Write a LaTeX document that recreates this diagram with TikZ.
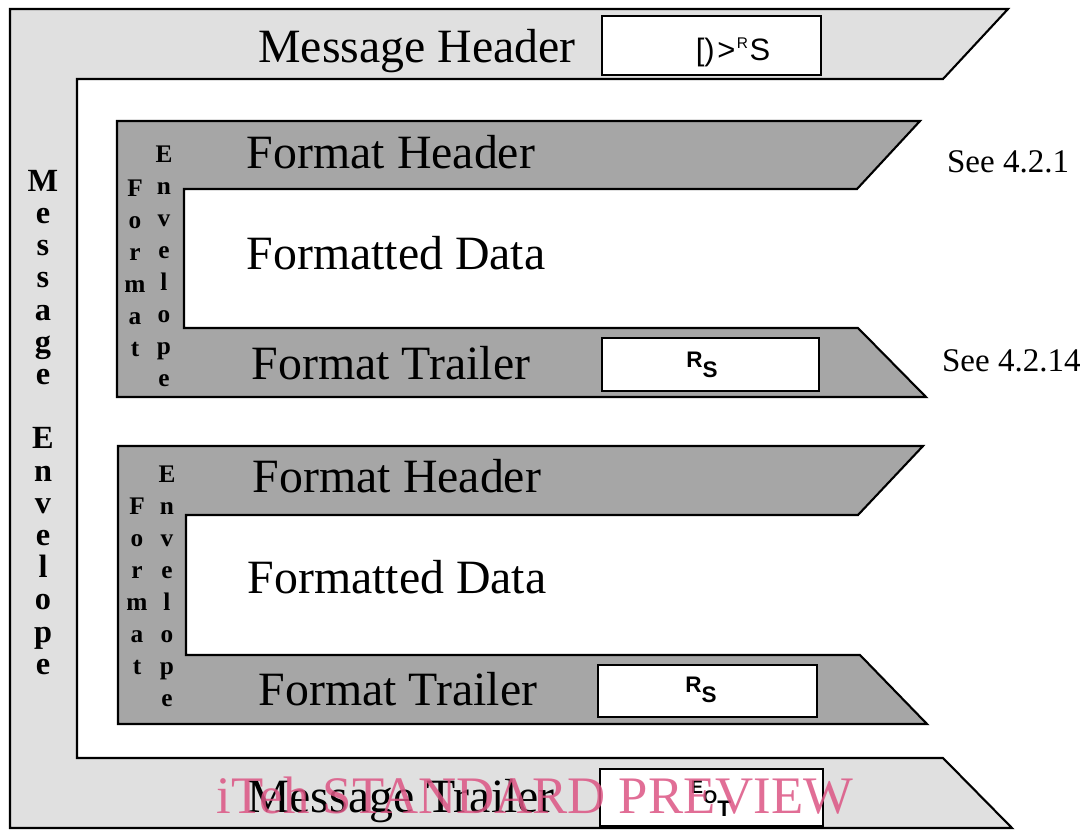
\documentclass[tikz,border=0pt]{standalone}
\usepackage{fontspec}
\setmainfont{Liberation Serif}
\setsansfont{Liberation Sans}
\definecolor{msggray}{gray}{0.88}
\definecolor{fmtgray}{gray}{0.65}
\definecolor{wmpink}{RGB}{220,85,132}

\begin{document}
\begin{tikzpicture}[x=0.025cm, y=-0.025cm, line width=1.5pt,
  bigtext/.style={anchor=base, inner sep=0pt, font=\fontsize{34}{40}\selectfont},
  seetext/.style={anchor=base west, inner sep=0pt, font=\fontsize{23.5}{28}\selectfont},
  msgletters/.style={anchor=north, inner sep=0pt, align=center, font=\bfseries\fontsize{23}{22.9}\selectfont},
  fmtletters/.style={anchor=north, inner sep=0pt, align=center, font=\bfseries\fontsize{18}{22.76}\selectfont},
  codebox/.style={draw, fill=white},
  ctrltext/.style={anchor=base, inner sep=0pt, font=\sffamily\bfseries\fontsize{16}{16}\selectfont}]
\useasboundingbox (0,0) rectangle (1087,830);

% message envelope
\draw[fill=msggray] (10,9) -- (1008,9) -- (943,79) -- (77,79) -- (77,758) -- (943,758) -- (1012,828) -- (10,828) -- cycle;
% format envelopes
\draw[fill=fmtgray] (117,121) -- (920,121) -- (857,189) -- (184,189) -- (184,328) -- (858,328) -- (926,397) -- (117,397) -- cycle;
\draw[fill=fmtgray] (118,446) -- (923,446) -- (858,515) -- (186,515) -- (186,655) -- (860,655) -- (927,724) -- (118,724) -- cycle;

% code boxes
\draw[codebox] (602,16) rectangle (821,75);
\draw[codebox] (602,338) rectangle (819,391);
\draw[codebox] (598,665) rectangle (817,717);
\draw[codebox] (600,769) rectangle (823,826);

\node[bigtext] (msghdr) at (417,62) {Message Header};
\node[bigtext] (fmthdrA) at (391,168) {Format Header};
\node[bigtext] (fmtdataA) at (396,269) {Formatted Data};
\node[bigtext] (fmttrlA) at (391,379) {Format Trailer};
\node[bigtext] (fmthdrB) at (397,492) {Format Header};
\node[bigtext] (fmtdataB) at (397,593) {Formatted Data};
\node[bigtext] (fmttrlB) at (398,705) {Format Trailer};
\node[bigtext] (msgtrl) at (401,812) {Message Trailer};

\node[seetext] (seehdr) at (946,172) {See 4.2.1};
\node[seetext] (seetrl) at (941,371) {See 4.2.14};

% vertical labels
\node[msgletters] (msgenv) at (43,169) {M\\e\\s\\s\\a\\g\\e\\[22.9pt]E\\n\\v\\e\\l\\o\\p\\e};
\node[fmtletters] (fmtA) at (135,179) {F\\o\\r\\m\\a\\t};
\node[fmtletters] (envA) at (164,145) {E\\n\\v\\e\\l\\o\\p\\e};
\node[fmtletters] (fmtB) at (137,497) {F\\o\\r\\m\\a\\t};
\node[fmtletters] (envB) at (167,465) {E\\n\\v\\e\\l\\o\\p\\e};

% control characters
\node[anchor=base, inner sep=0pt, font=\sffamily\fontsize{22}{22}\selectfont] (hdrcode) at (733,60) {[)\kern2pt>\kern1pt\raisebox{8pt}{\fontsize{11}{11}\selectfont R}\kern1pt S};
\node[ctrltext] (rsA) at (702,367) {R\raisebox{-7.8pt}{S}};
\node[ctrltext] (rsB) at (701,692) {R\raisebox{-7.8pt}{S}};
\node[ctrltext, font=\sffamily\bfseries\fontsize{13}{13}\selectfont] (eot) at (711,793) {E\raisebox{-7.8pt}{O}\raisebox{-17pt}{\fontsize{16}{16}\selectfont T}};

\node[anchor=base, inner sep=0pt, text=wmpink, text opacity=0.85, font=\fontsize{37.5}{40}\selectfont] (preview) at (535,813) {iTeh STANDARD PREVIEW};
\end{tikzpicture}
\end{document}
